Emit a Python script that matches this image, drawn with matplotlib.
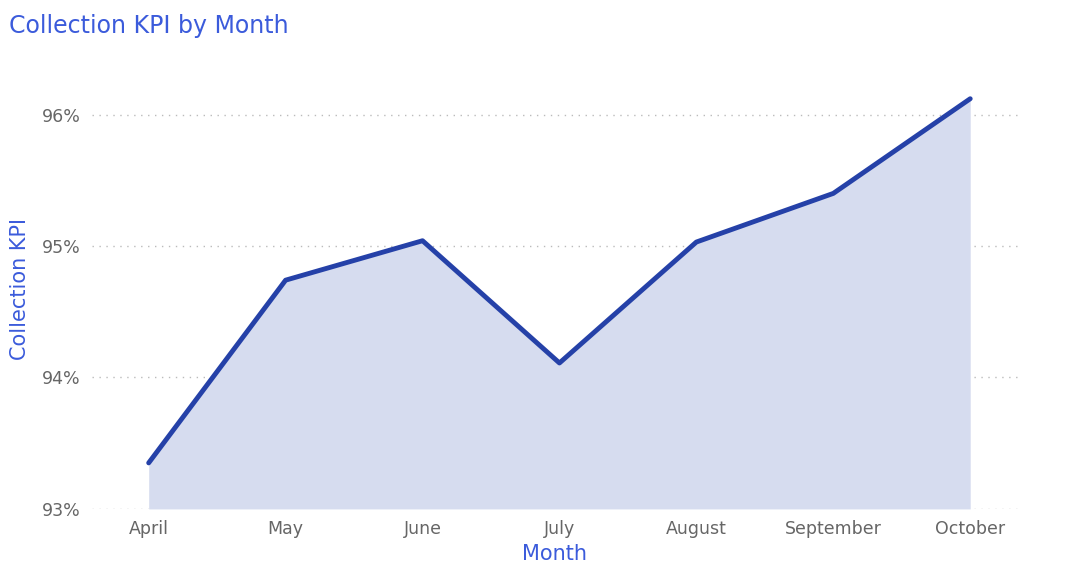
import numpy as np
import matplotlib.pyplot as plt

months = ['April', 'May', 'June', 'July', 'August', 'September', 'October']
kpi = [93.35, 94.74, 95.04, 94.11, 95.03, 95.40, 96.12]
yticks = [93, 94, 95, 96]

fig = plt.figure(figsize=(10.65, 5.77), dpi=100)
ax = fig.add_axes([0.086, 0.118, 0.87, 0.761])
x = np.arange(len(months))
ax.fill_between(x, kpi, 93, color='#d6dcef', linewidth=0)
ax.plot(x, kpi, color='#2541a8', linewidth=3.5, solid_capstyle='round')
ax.set_xlim(-0.417, 6.35)
ax.set_ylim(93, 96.34)
ax.set_xticks(x)
ax.set_xticklabels(months)
ax.set_yticks(yticks)
ax.set_yticklabels([f'{v}%' for v in yticks])
ax.tick_params(length=0, labelsize=12.5, colors='#666666', pad=8)
for s in ax.spines.values():
    s.set_visible(False)
ax.grid(axis='y', linestyle=(0, (1, 4)), color='#bbbbbb', linewidth=1)
ax.set_axisbelow(True)
ax.set_xlabel('Month', color='#3b5bdb', fontsize=15, labelpad=4)
ax.set_ylabel('Collection KPI', color='#3b5bdb', fontsize=15, labelpad=8)
fig.text(0.008, 0.975, 'Collection KPI by Month', color='#3b5bdb', fontsize=17, va='top')
fig.savefig('out.png')
